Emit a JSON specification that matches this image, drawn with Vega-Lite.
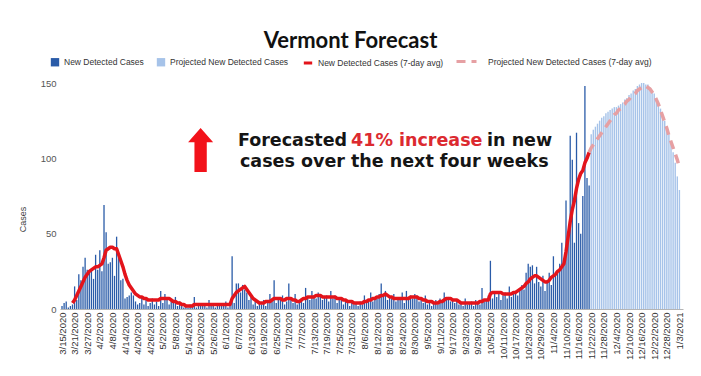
{
"$schema": "https://vega.github.io/schema/vega-lite/v6.json",
"width": 623, "height": 226,
"autosize": "none",
"padding": {"left": 60, "top": 83, "right": 18, "bottom": 67},
"background": "white",
"config": {"view": {"stroke": null}, "font": "Liberation Sans", "axisX": {"labelOverlap": false}},
"title": {"text": "Vermont Forecast", "font": "Lato", "fontSize": 22, "fontWeight": "bold", "color": "#111", "anchor": "middle", "frame": "group", "dx": -21, "offset": -3},
"data": {"values": [
{"d":"2020-03-15","c":2},{"d":"2020-03-16","c":4},{"d":"2020-03-17","c":5},{"d":"2020-03-18","c":1},{"d":"2020-03-19","c":2},
{"d":"2020-03-20","c":3,"a":4},{"d":"2020-03-21","c":15,"a":6},{"d":"2020-03-22","c":6,"a":9},{"d":"2020-03-23","c":23,"a":12},{"d":"2020-03-24","c":19,"a":15},{"d":"2020-03-25","c":28,"a":18},{"d":"2020-03-26","c":34,"a":21},{"d":"2020-03-27","c":26,"a":23},{"d":"2020-03-28","c":25,"a":25},{"d":"2020-03-29","c":26,"a":26},{"d":"2020-03-30","c":20,"a":27},{"d":"2020-03-31","c":36,"a":28},
{"d":"2020-04-01","c":26,"a":28},{"d":"2020-04-02","c":39,"a":29},{"d":"2020-04-03","c":25,"a":30},{"d":"2020-04-04","c":69,"a":34},{"d":"2020-04-05","c":51,"a":39},{"d":"2020-04-06","c":30,"a":40},{"d":"2020-04-07","c":31,"a":41},{"d":"2020-04-08","c":34,"a":41},{"d":"2020-04-09","c":22,"a":40},{"d":"2020-04-10","c":48,"a":40},{"d":"2020-04-11","c":36,"a":36},{"d":"2020-04-12","c":19,"a":32},{"d":"2020-04-13","c":20,"a":28},{"d":"2020-04-14","c":7,"a":23},{"d":"2020-04-15","c":8,"a":19},{"d":"2020-04-16","c":9,"a":16},{"d":"2020-04-17","c":11,"a":14},{"d":"2020-04-18","c":9,"a":12},{"d":"2020-04-19","c":5,"a":10},{"d":"2020-04-20","c":3,"a":9},{"d":"2020-04-21","c":4,"a":8},{"d":"2020-04-22","c":8,"a":8},{"d":"2020-04-23","c":3,"a":7},{"d":"2020-04-24","c":6,"a":7},{"d":"2020-04-25","c":2,"a":6},{"d":"2020-04-26","c":4,"a":6},{"d":"2020-04-27","c":7,"a":6},{"d":"2020-04-28","c":3,"a":6},{"d":"2020-04-29","c":5,"a":6},{"d":"2020-04-30","c":2,"a":6},
{"d":"2020-05-01","c":12,"a":7},{"d":"2020-05-02","c":4,"a":7},{"d":"2020-05-03","c":10,"a":7},{"d":"2020-05-04","c":6,"a":7},{"d":"2020-05-05","c":3,"a":7},{"d":"2020-05-06","c":5,"a":6},{"d":"2020-05-07","c":4,"a":5},{"d":"2020-05-08","c":8,"a":5},{"d":"2020-05-09","c":2,"a":4},{"d":"2020-05-10","c":5,"a":4},{"d":"2020-05-11","c":3,"a":3},{"d":"2020-05-12","c":1,"a":3},{"d":"2020-05-13","c":2,"a":2},{"d":"2020-05-14","c":1,"a":2},{"d":"2020-05-15","c":3,"a":2},{"d":"2020-05-16","c":2,"a":2},{"d":"2020-05-17","c":8,"a":3},{"d":"2020-05-18","c":1,"a":3},{"d":"2020-05-19","c":2,"a":3},{"d":"2020-05-20","c":3,"a":3},{"d":"2020-05-21","c":2,"a":3},{"d":"2020-05-22","c":4,"a":3},{"d":"2020-05-23","c":1,"a":3},{"d":"2020-05-24","c":6,"a":3},{"d":"2020-05-25","c":2,"a":3},{"d":"2020-05-26","c":3,"a":3},{"d":"2020-05-27","c":1,"a":3},{"d":"2020-05-28","c":4,"a":3},{"d":"2020-05-29","c":2,"a":3},{"d":"2020-05-30","c":3,"a":3},{"d":"2020-05-31","c":2,"a":3},
{"d":"2020-06-01","c":5,"a":3},{"d":"2020-06-02","c":1,"a":3},{"d":"2020-06-03","c":3,"a":3},{"d":"2020-06-04","c":35,"a":7},{"d":"2020-06-05","c":4,"a":9},{"d":"2020-06-06","c":17,"a":11},{"d":"2020-06-07","c":17,"a":12},{"d":"2020-06-08","c":11,"a":13},{"d":"2020-06-09","c":16,"a":14},{"d":"2020-06-10","c":13,"a":15},{"d":"2020-06-11","c":11,"a":13},{"d":"2020-06-12","c":6,"a":11},{"d":"2020-06-13","c":8,"a":9},{"d":"2020-06-14","c":3,"a":7},{"d":"2020-06-15","c":5,"a":6},{"d":"2020-06-16","c":2,"a":5},{"d":"2020-06-17","c":4,"a":4},{"d":"2020-06-18","c":3,"a":4},{"d":"2020-06-19","c":6,"a":4},{"d":"2020-06-20","c":2,"a":5},{"d":"2020-06-21","c":4,"a":5},{"d":"2020-06-22","c":10,"a":5},{"d":"2020-06-23","c":5,"a":6},{"d":"2020-06-24","c":19,"a":7},{"d":"2020-06-25","c":4,"a":7},{"d":"2020-06-26","c":8,"a":7},{"d":"2020-06-27","c":6,"a":7},{"d":"2020-06-28","c":9,"a":6},{"d":"2020-06-29","c":3,"a":6},{"d":"2020-06-30","c":5,"a":7},
{"d":"2020-07-01","c":17,"a":7},{"d":"2020-07-02","c":6,"a":7},{"d":"2020-07-03","c":4,"a":6},{"d":"2020-07-04","c":10,"a":6},{"d":"2020-07-05","c":3,"a":5},{"d":"2020-07-06","c":5,"a":5},{"d":"2020-07-07","c":7,"a":6},{"d":"2020-07-08","c":4,"a":7},{"d":"2020-07-09","c":14,"a":7},{"d":"2020-07-10","c":8,"a":8},{"d":"2020-07-11","c":6,"a":8},{"d":"2020-07-12","c":12,"a":8},{"d":"2020-07-13","c":9,"a":8},{"d":"2020-07-14","c":7,"a":9},{"d":"2020-07-15","c":11,"a":9},{"d":"2020-07-16","c":10,"a":9},{"d":"2020-07-17","c":6,"a":8},{"d":"2020-07-18","c":8,"a":8},{"d":"2020-07-19","c":9,"a":8},{"d":"2020-07-20","c":5,"a":8},{"d":"2020-07-21","c":12,"a":8},{"d":"2020-07-22","c":7,"a":8},{"d":"2020-07-23","c":9,"a":8},{"d":"2020-07-24","c":4,"a":7},{"d":"2020-07-25","c":8,"a":7},{"d":"2020-07-26","c":6,"a":7},{"d":"2020-07-27","c":3,"a":6},{"d":"2020-07-28","c":5,"a":6},{"d":"2020-07-29","c":4,"a":5},{"d":"2020-07-30","c":2,"a":5},{"d":"2020-07-31","c":6,"a":5},
{"d":"2020-08-01","c":3,"a":4},{"d":"2020-08-02","c":4,"a":4},{"d":"2020-08-03","c":2,"a":4},{"d":"2020-08-04","c":5,"a":4},{"d":"2020-08-05","c":3,"a":4},{"d":"2020-08-06","c":9,"a":5},{"d":"2020-08-07","c":4,"a":5},{"d":"2020-08-08","c":6,"a":6},{"d":"2020-08-09","c":11,"a":6},{"d":"2020-08-10","c":5,"a":7},{"d":"2020-08-11","c":8,"a":7},{"d":"2020-08-12","c":7,"a":8},{"d":"2020-08-13","c":10,"a":8},{"d":"2020-08-14","c":17,"a":9},{"d":"2020-08-15","c":9,"a":9},{"d":"2020-08-16","c":12,"a":10},{"d":"2020-08-17","c":6,"a":9},{"d":"2020-08-18","c":8,"a":8},{"d":"2020-08-19","c":7,"a":8},{"d":"2020-08-20","c":10,"a":7},{"d":"2020-08-21","c":5,"a":7},{"d":"2020-08-22","c":6,"a":7},{"d":"2020-08-23","c":8,"a":7},{"d":"2020-08-24","c":11,"a":7},{"d":"2020-08-25","c":4,"a":7},{"d":"2020-08-26","c":12,"a":7},{"d":"2020-08-27","c":6,"a":7},{"d":"2020-08-28","c":9,"a":8},{"d":"2020-08-29","c":7,"a":8},{"d":"2020-08-30","c":10,"a":8},{"d":"2020-08-31","c":9,"a":8},
{"d":"2020-09-01","c":5,"a":7},{"d":"2020-09-02","c":6,"a":7},{"d":"2020-09-03","c":4,"a":6},{"d":"2020-09-04","c":9,"a":6},{"d":"2020-09-05","c":3,"a":5},{"d":"2020-09-06","c":5,"a":5},{"d":"2020-09-07","c":2,"a":5},{"d":"2020-09-08","c":4,"a":4},{"d":"2020-09-09","c":6,"a":4},{"d":"2020-09-10","c":3,"a":4},{"d":"2020-09-11","c":7,"a":5},{"d":"2020-09-12","c":5,"a":5},{"d":"2020-09-13","c":11,"a":6},{"d":"2020-09-14","c":6,"a":7},{"d":"2020-09-15","c":8,"a":7},{"d":"2020-09-16","c":5,"a":7},{"d":"2020-09-17","c":7,"a":6},{"d":"2020-09-18","c":4,"a":6},{"d":"2020-09-19","c":6,"a":6},{"d":"2020-09-20","c":3,"a":5},{"d":"2020-09-21","c":4,"a":4},{"d":"2020-09-22","c":2,"a":4},{"d":"2020-09-23","c":7,"a":4},{"d":"2020-09-24","c":3,"a":4},{"d":"2020-09-25","c":4,"a":4},{"d":"2020-09-26","c":5,"a":4},{"d":"2020-09-27","c":2,"a":4},{"d":"2020-09-28","c":6,"a":4},{"d":"2020-09-29","c":4,"a":4},{"d":"2020-09-30","c":3,"a":5},
{"d":"2020-10-01","c":14,"a":5},{"d":"2020-10-02","c":5,"a":6},{"d":"2020-10-03","c":6,"a":6},{"d":"2020-10-04","c":9,"a":6},{"d":"2020-10-05","c":32,"a":10},{"d":"2020-10-06","c":7,"a":11},{"d":"2020-10-07","c":10,"a":11},{"d":"2020-10-08","c":8,"a":11},{"d":"2020-10-09","c":12,"a":11},{"d":"2020-10-10","c":6,"a":11},{"d":"2020-10-11","c":9,"a":10},{"d":"2020-10-12","c":11,"a":10},{"d":"2020-10-13","c":7,"a":10},{"d":"2020-10-14","c":15,"a":10},{"d":"2020-10-15","c":8,"a":10},{"d":"2020-10-16","c":10,"a":11},{"d":"2020-10-17","c":12,"a":11},{"d":"2020-10-18","c":9,"a":12},{"d":"2020-10-19","c":14,"a":13},{"d":"2020-10-20","c":16,"a":14},{"d":"2020-10-21","c":13,"a":15},{"d":"2020-10-22","c":24,"a":17},{"d":"2020-10-23","c":30,"a":18},{"d":"2020-10-24","c":28,"a":20},{"d":"2020-10-25","c":29,"a":21},{"d":"2020-10-26","c":17,"a":22},{"d":"2020-10-27","c":28,"a":22},{"d":"2020-10-28","c":18,"a":21},{"d":"2020-10-29","c":15,"a":20},{"d":"2020-10-30","c":22,"a":19},{"d":"2020-10-31","c":12,"a":18},
{"d":"2020-11-01","c":19,"a":18},{"d":"2020-11-02","c":24,"a":19},{"d":"2020-11-03","c":16,"a":21},{"d":"2020-11-04","c":35,"a":22},{"d":"2020-11-05","c":22,"a":23},{"d":"2020-11-06","c":25,"a":25},{"d":"2020-11-07","c":30,"a":26},{"d":"2020-11-08","c":44,"a":28},{"d":"2020-11-09","c":32,"a":30},{"d":"2020-11-10","c":72,"a":38},{"d":"2020-11-11","c":48,"a":48},{"d":"2020-11-12","c":115,"a":58},{"d":"2020-11-13","c":99,"a":66},{"d":"2020-11-14","c":44,"a":72},{"d":"2020-11-15","c":117,"a":80},{"d":"2020-11-16","c":57,"a":86},{"d":"2020-11-17","c":50,"a":90},{"d":"2020-11-18","c":75,"a":92},{"d":"2020-11-19","c":148,"a":97},{"d":"2020-11-20","c":87,"a":100},{"d":"2020-11-21","c":82,"a":104,"f":104},
{"d":"2020-11-22","p":116,"f":107},{"d":"2020-11-23","p":119,"f":109},{"d":"2020-11-24","p":121,"f":111},{"d":"2020-11-25","p":123,"f":113},{"d":"2020-11-26","p":125,"f":115},{"d":"2020-11-27","p":127,"f":117},{"d":"2020-11-28","p":128,"f":119},{"d":"2020-11-29","p":130,"f":121},{"d":"2020-11-30","p":131,"f":123},
{"d":"2020-12-01","p":132,"f":125},{"d":"2020-12-02","p":133,"f":127},{"d":"2020-12-03","p":134,"f":129},{"d":"2020-12-04","p":134,"f":130},{"d":"2020-12-05","p":135,"f":132},{"d":"2020-12-06","p":136,"f":133},{"d":"2020-12-07","p":137,"f":135},{"d":"2020-12-08","p":139,"f":136},{"d":"2020-12-09","p":140,"f":138},{"d":"2020-12-10","p":142,"f":139},{"d":"2020-12-11","p":143,"f":141},{"d":"2020-12-12","p":145,"f":142},{"d":"2020-12-13","p":146,"f":143},{"d":"2020-12-14","p":148,"f":145},{"d":"2020-12-15","p":149,"f":146},{"d":"2020-12-16","p":150,"f":147},{"d":"2020-12-17","p":150,"f":148},{"d":"2020-12-18","p":149,"f":148},{"d":"2020-12-19","p":149,"f":147},{"d":"2020-12-20","p":147,"f":146},{"d":"2020-12-21","p":145,"f":144},{"d":"2020-12-22","p":143,"f":142},{"d":"2020-12-23","p":140,"f":139},{"d":"2020-12-24","p":137,"f":136},{"d":"2020-12-25","p":133,"f":132},{"d":"2020-12-26","p":129,"f":128},{"d":"2020-12-27","p":125,"f":124},{"d":"2020-12-28","p":121,"f":120},{"d":"2020-12-29","p":116,"f":115},{"d":"2020-12-30","p":110,"f":111},{"d":"2020-12-31","p":104,"f":107},
{"d":"2021-01-01","p":97,"f":103},{"d":"2021-01-02","p":88,"f":99},{"d":"2021-01-03","p":79,"f":94}
]},
"encoding": {
  "x": {"field": "d", "type": "temporal",
        "scale": {"domain": ["2020-03-14T01:00:00Z", "2021-01-04T17:00:00Z"], "padding": 0},
        "axis": {"title": null, "format": "%-m/%-d/%Y", "labelAngle": -90, "labelFontSize": 9.5, "labelColor": "#333", "labelPadding": 3, "ticks": false, "grid": false, "domainColor": "#b5b5b5", "labelOverlap": false, "labelFlush": false,
                 "values": [1584230400000,1584748800000,1585267200000,1585785600000,1586304000000,1586822400000,1587340800000,1587859200000,1588377600000,1588896000000,1589414400000,1589932800000,1590451200000,1590969600000,1591488000000,1592006400000,1592524800000,1593043200000,1593561600000,1594080000000,1594598400000,1595116800000,1595635200000,1596153600000,1596672000000,1597190400000,1597708800000,1598227200000,1598745600000,1599264000000,1599782400000,1600300800000,1600819200000,1601337600000,1601856000000,1602374400000,1602892800000,1603411200000,1603929600000,1604448000000,1604966400000,1605484800000,1606003200000,1606521600000,1607040000000,1607558400000,1608076800000,1608595200000,1609113600000,1609632000000]}}
},
"layer": [
  {"mark": {"type": "bar", "size": 1.3},
   "encoding": {
     "y": {"field": "c", "type": "quantitative", "scale": {"domain": [0, 150], "nice": false},
           "axis": {"title": "Cases", "values": [0, 50, 100, 150], "grid": false, "domain": false, "ticks": false, "labelFontSize": 9.5, "labelColor": "#555", "labelPadding": 4, "titleFontSize": 9, "titleFontWeight": "normal", "titleColor": "#444", "titleX": -33, "titleY": 136, "titleAlign": "center"}},
     "color": {"datum": "New Detected Cases", "type": "nominal",
       "scale": {"domain": ["New Detected Cases", "Projected New Detected Cases"], "range": ["#2a5ba8", "#a6c3e9"]},
       "legend": {"orient": "none", "legendX": -10, "legendY": -26, "direction": "horizontal", "columns": 2, "title": null, "labelFont": "Liberation Sans", "labelFontSize": 8.5, "labelColor": "#333", "labelLimit": 300, "symbolType": "square", "symbolSize": 70, "columnPadding": 12}}
   }},
  {"mark": {"type": "bar", "size": 1.4},
   "encoding": {"y": {"field": "p", "type": "quantitative"}, "color": {"datum": "Projected New Detected Cases", "type": "nominal"}}},
  {"mark": {"type": "line", "strokeWidth": 3.5, "strokeJoin": "round"},
   "encoding": {"y": {"field": "a", "type": "quantitative"},
     "stroke": {"datum": "New Detected Cases (7-day avg)", "type": "nominal",
       "scale": {"domain": ["New Detected Cases (7-day avg)"], "range": ["#e3141b"]},
       "legend": {"orient": "none", "legendX": 242, "legendY": -26, "direction": "horizontal", "title": null, "labelFont": "Liberation Sans", "labelFontSize": 8.5, "labelColor": "#333", "labelLimit": 300, "symbolType": "stroke", "symbolSize": 70, "symbolStrokeWidth": 3}}}},
  {"mark": {"type": "line", "strokeWidth": 3.5, "color": "#e6a0a3", "stroke": "#e6a0a3"},
   "encoding": {"y": {"field": "f", "type": "quantitative"},
     "strokeDash": {"datum": "Projected New Detected Cases (7-day avg)", "type": "nominal",
       "scale": {"domain": ["Projected New Detected Cases (7-day avg)"], "range": [[9, 6]]},
       "legend": {"orient": "none", "legendX": 395, "legendY": -33, "direction": "horizontal", "title": null, "labelFont": "Liberation Sans", "labelFontSize": 8.5, "labelColor": "#333", "labelLimit": 300, "labelOffset": 10, "symbolType": "stroke", "symbolSize": 400, "symbolStrokeWidth": 3, "symbolStrokeColor": "#e6a0a3"}}}},
  {"data": {"values": [{"d": "2020-05-20", "v": 105.5}]},
   "mark": {"type": "point", "filled": true, "opacity": 1, "color": "#f2121a", "size": 1936, "shape": "M0,-1L0.57,-0.36L0.28,-0.36L0.28,1L-0.28,1L-0.28,-0.36L-0.57,-0.36Z"},
   "encoding": {"y": {"field": "v", "type": "quantitative"}}},
  {"data": {"values": [
     {"d": "2020-06-06T19:00:00Z", "v": 108.2, "t": "Forecasted", "k": "black"},
     {"d": "2020-07-30T15:00:00Z", "v": 108.2, "t": "41% increase", "k": "red"},
     {"d": "2020-10-03T10:00:00Z", "v": 108.2, "t": "in new", "k": "black"},
     {"d": "2020-06-07T18:00:00Z", "v": 94.2, "t": "cases over the next four weeks", "k": "black"}]},
   "mark": {"type": "text", "align": "left", "baseline": "alphabetic", "font": "DejaVu Sans", "fontSize": 17.5, "fontWeight": "bold"},
   "encoding": {"y": {"field": "v", "type": "quantitative"}, "text": {"field": "t"},
     "fill": {"field": "k", "type": "nominal", "scale": {"domain": ["black", "red"], "range": ["#151515", "#dc2a30"]}, "legend": null}}}
]
}
